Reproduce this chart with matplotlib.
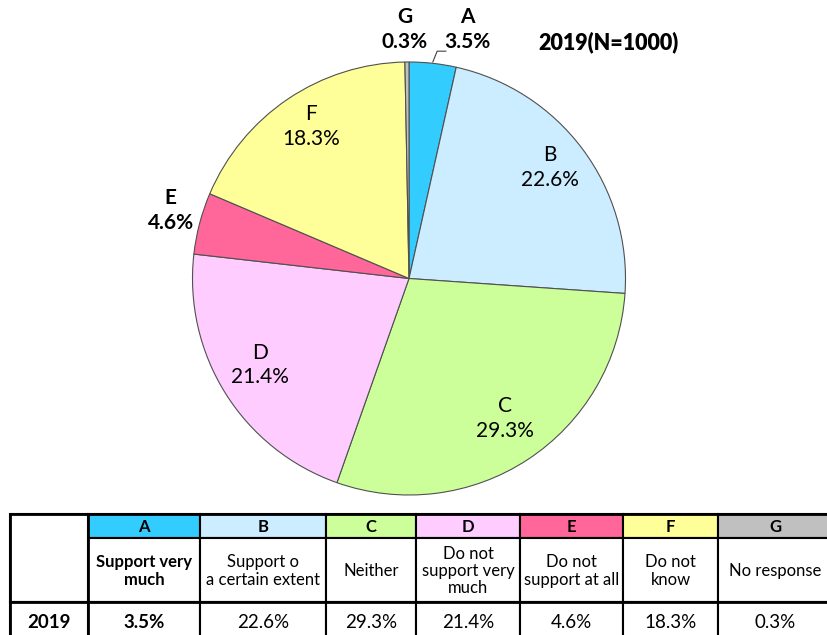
import numpy as np
import matplotlib.pyplot as plt
from matplotlib.patches import Rectangle

plt.rcParams['font.family'] = ['Lato', 'DejaVu Sans']

# data
letters = ["A", "B", "C", "D", "E", "F", "G"]
values = [3.5, 22.6, 29.3, 21.4, 4.6, 18.3, 0.3]
answers = ["Support very\nmuch", "Support o\na certain extent", "Neither",
           "Do not\nsupport very\nmuch", "Do not\nsupport at all", "Do not\nknow", "No response"]
colors = ["#33CCFF", "#CCECFF", "#CCFF99", "#FFCCFF", "#FF6699", "#FFFF99", "#C0C0C0"]
year = "2019"
title = "2019(N=1000)"

W, H = 828, 635
fig = plt.figure(figsize=(W / 100, H / 100), dpi=100)

# pie, placed in pixels: circle from x=192..626, y=62..495
ax = fig.add_axes([192 / W, (H - 495) / H, 434 / W, 433 / H])
wedges, _ = ax.pie(values, colors=colors, startangle=90, counterclock=False,
                   wedgeprops=dict(edgecolor="#505050", linewidth=0.8))
ax.set_aspect("equal")
ax.set_xlim(-1.0, 1.0)
ax.set_ylim(-1.0, 1.0)
ax.axis("off")

# labels: inside for the big ones
for w, let, v in zip(wedges, letters, values):
    mid = np.deg2rad((w.theta1 + w.theta2) / 2)
    if v > 10:
        r = 0.81
        ax.text(r * np.cos(mid), r * np.sin(mid) + 0.03, f"{let}\n{v}%", ha="center",
                va="center", fontsize=15, linespacing=1.3)

# E outside left
wE = wedges[4]
mid = np.deg2rad((wE.theta1 + wE.theta2) / 2)
ax.text(1.2 * np.cos(mid) + 0.06, 1.2 * np.sin(mid) + 0.01, f"{letters[4]}\n{values[4]}%",
        ha="center", va="center", fontsize=15, fontweight="bold", linespacing=1.3)
# G and A above
ax.text(-0.02, 1.15, f"{letters[6]}\n{values[6]}%", ha="center", va="center",
        fontsize=15, fontweight="bold", linespacing=1.3)
ax.text(0.27, 1.15, f"{letters[0]}\n{values[0]}%", ha="center", va="center",
        fontsize=15, fontweight="bold", linespacing=1.3)
ax.plot([0.11, 0.13, 0.17], [1.0, 1.05, 1.05], color="#404040", lw=0.8, clip_on=False)

# overlay in pixel coords for title and table
ov = fig.add_axes([0, 0, 1, 1], zorder=-1)
ov.set_xlim(0, W)
ov.set_ylim(H, 0)
ov.axis("off")
ov.text(609, 42, title, ha="center", va="center", fontsize=15.5, fontweight="heavy")

# table
cols = [10, 88, 200, 326, 416, 520, 623, 718, 832]
y0, y1, y2, y3 = 514, 538, 602, 645
lw = 1.5
for i in range(7):
    xa, xb = cols[i + 1], cols[i + 2]
    ov.add_patch(Rectangle((xa, y0), xb - xa, y1 - y0, facecolor=colors[i],
                           edgecolor="black", lw=lw))
    ov.text((xa + xb) / 2, (y0 + y1) / 2 + 1, letters[i], ha="center", va="center",
            fontsize=12, fontweight="bold")
    ov.add_patch(Rectangle((xa, y1), xb - xa, y2 - y1, facecolor="white",
                           edgecolor="black", lw=lw))
    ov.text((xa + xb) / 2, (y1 + y2) / 2 + 1, answers[i], ha="center", va="center",
            fontsize=12, fontweight="bold" if i == 0 else "normal", linespacing=1.1)
    ov.add_patch(Rectangle((xa, y2), xb - xa, y3 - y2, facecolor="white",
                           edgecolor="black", lw=lw))
    ov.text((xa + xb) / 2, 622, f"{values[i]}%", ha="center", va="center",
            fontsize=13.5, fontweight="bold" if i == 0 else "normal")
ov.add_patch(Rectangle((cols[0], y0), cols[1] - cols[0], y2 - y0, facecolor="white",
                       edgecolor="black", lw=lw))
ov.add_patch(Rectangle((cols[0], y2), cols[1] - cols[0], y3 - y2, facecolor="white",
                       edgecolor="black", lw=lw))
ov.text((cols[0] + cols[1]) / 2, 622, year, ha="center", va="center",
        fontsize=13.5, fontweight="bold")
# thicker outer / separator lines
ov.plot([cols[0], W], [y0, y0], color="black", lw=2)
ov.plot([cols[0], W], [y2, y2], color="black", lw=2)
ov.plot([cols[0], cols[0]], [y0, H], color="black", lw=2)
ov.plot([cols[1], cols[1]], [y0, H], color="black", lw=2)

fig.savefig("out.png", dpi=100)
